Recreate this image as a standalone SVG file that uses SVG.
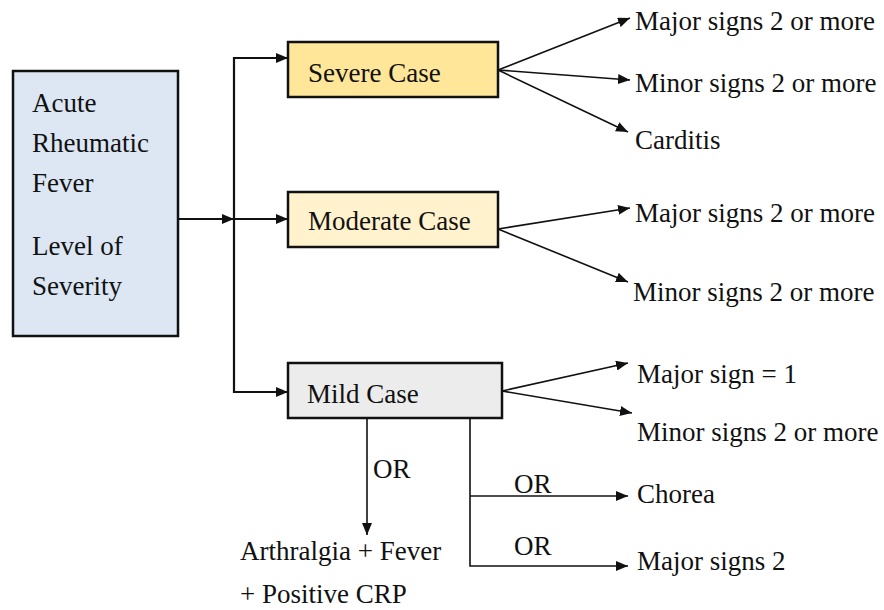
<svg xmlns="http://www.w3.org/2000/svg" width="884" height="610" viewBox="0 0 884 610" font-family="'Liberation Serif', 'DejaVu Serif', Times, serif">
  <style>
    text { font-family: "Liberation Serif", "DejaVu Serif", Times, serif; font-size: 27px; fill: #111; }
    .box { stroke: #111; stroke-width: 2.5; }
    .edge { fill: none; stroke: #111; stroke-width: 1.6; }
    .trunk { fill: none; stroke: #111; stroke-width: 2.2; }
  </style>
  <defs>
    <marker id="arrow" viewBox="0 0 12 10" refX="12" refY="5" markerWidth="12" markerHeight="10" markerUnits="userSpaceOnUse" orient="auto">
      <path d="M0,0 L12,5 L0,10 z" fill="#111"/>
    </marker>
  </defs>

  <rect width="884" height="610" fill="#ffffff"/>

  <!-- connectors -->
  <g id="connectors">
    <!-- trunk from the main box to the three cases -->
    <line class="trunk" x1="178" y1="219" x2="234" y2="219" marker-end="url(#arrow)"/>
    <polyline class="trunk" points="288,58 234,58 234,392 288,392" marker-end="url(#arrow)"/>
    <path class="trunk" d="M234,58 L288,58" marker-end="url(#arrow)"/>
    <line class="trunk" x1="234" y1="219" x2="288" y2="219" marker-end="url(#arrow)"/>

    <!-- severe case branches -->
    <line class="edge" x1="498" y1="70" x2="630" y2="18" marker-end="url(#arrow)"/>
    <line class="edge" x1="498" y1="70" x2="630" y2="80" marker-end="url(#arrow)"/>
    <line class="edge" x1="498" y1="70" x2="628" y2="132" marker-end="url(#arrow)"/>

    <!-- moderate case branches -->
    <line class="edge" x1="498" y1="229" x2="630" y2="208" marker-end="url(#arrow)"/>
    <line class="edge" x1="498" y1="229" x2="628" y2="282" marker-end="url(#arrow)"/>

    <!-- mild case branches -->
    <line class="edge" x1="502" y1="391" x2="628" y2="363" marker-end="url(#arrow)"/>
    <line class="edge" x1="502" y1="391" x2="632" y2="413" marker-end="url(#arrow)"/>
    <line class="edge" x1="367" y1="418" x2="367" y2="535" marker-end="url(#arrow)"/>
    <polyline class="edge" points="470,418 470,566 628,566" marker-end="url(#arrow)"/>
    <line class="edge" x1="470" y1="496" x2="628" y2="496" marker-end="url(#arrow)"/>
  </g>

  <!-- root node -->
  <g id="node-arf">
    <rect class="box" x="13" y="71" width="165" height="265" fill="#dce7f3"/>
    <text x="32" y="112">Acute</text>
    <text x="32" y="152">Rheumatic</text>
    <text x="32" y="192">Fever</text>
    <text x="32" y="255">Level of</text>
    <text x="32" y="295">Severity</text>
  </g>

  <g id="node-severe">
    <rect class="box" x="288" y="42" width="210" height="55" fill="#ffe699"/>
    <text x="308" y="82">Severe Case</text>
  </g>

  <g id="node-moderate">
    <rect class="box" x="288" y="192" width="210" height="55" fill="#fff2cc"/>
    <text x="308" y="230">Moderate Case</text>
  </g>

  <g id="node-mild">
    <rect class="box" x="288" y="363" width="214" height="55" fill="#ececec"/>
    <text x="307" y="403">Mild Case</text>
  </g>

  <!-- outcome labels -->
  <g id="labels-severe">
    <text x="635" y="30">Major signs 2 or more</text>
    <text x="635" y="92">Minor signs 2 or more</text>
    <text x="635" y="149">Carditis</text>
  </g>
  <g id="labels-moderate">
    <text x="635" y="222">Major signs 2 or more</text>
    <text x="633" y="301">Minor signs 2 or more</text>
  </g>
  <g id="labels-mild">
    <text x="637" y="383">Major sign = 1</text>
    <text x="637" y="441">Minor signs 2 or more</text>
    <text x="373" y="478">OR</text>
    <text x="514" y="493">OR</text>
    <text x="514" y="555">OR</text>
    <text x="637" y="503">Chorea</text>
    <text x="637" y="570">Major signs 2</text>
    <text x="240" y="560">Arthralgia + Fever</text>
    <text x="240" y="603">+ Positive CRP</text>
  </g>
</svg>
